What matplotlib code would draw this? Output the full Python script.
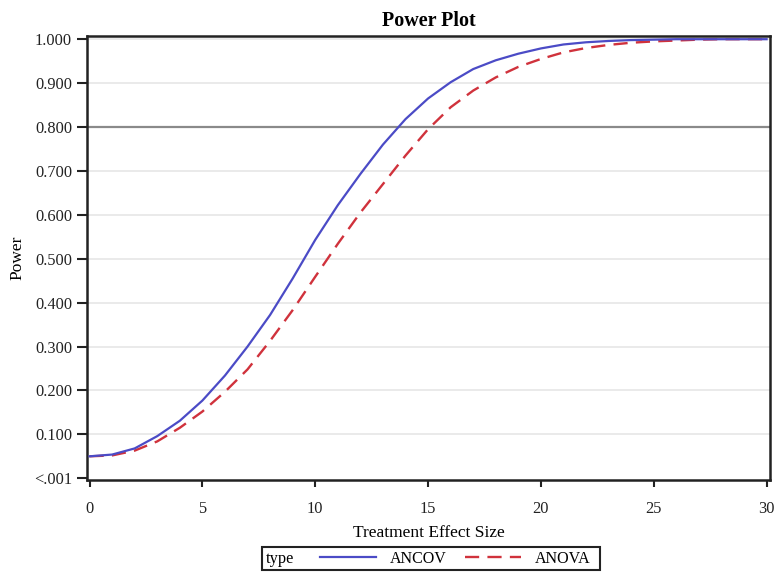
import matplotlib
matplotlib.use('Agg')
import matplotlib.pyplot as plt
from matplotlib.lines import Line2D
from matplotlib.patches import Rectangle

plt.rcParams['font.family'] = ['Liberation Serif', 'DejaVu Serif']

# Datos
effect = [0, 1, 2, 3, 4, 5, 6, 7, 8, 9, 10, 11, 12, 13, 14, 15,
          16, 17, 18, 19, 20, 21, 22, 23, 24, 25, 26, 27, 28, 29, 30]
ancov = [0.050, 0.054, 0.068, 0.096, 0.131, 0.177, 0.234, 0.300, 0.372, 0.455,
         0.543, 0.622, 0.693, 0.760, 0.818, 0.865, 0.902, 0.932, 0.952, 0.967,
         0.979, 0.988, 0.993, 0.996, 0.998, 0.999, 1.000, 1.000, 1.000, 1.000, 1.000]
anova = [0.050, 0.052, 0.063, 0.084, 0.115, 0.152, 0.197, 0.248, 0.313, 0.383,
         0.459, 0.534, 0.605, 0.670, 0.735, 0.795, 0.845, 0.883, 0.913, 0.937,
         0.955, 0.970, 0.980, 0.987, 0.992, 0.995, 0.997, 0.999, 1.000, 1.000, 1.000]
yticks = [0, 0.1, 0.2, 0.3, 0.4, 0.5, 0.6, 0.7, 0.8, 0.9, 1.0]
ytick_labels = ['<.001', '0.100', '0.200', '0.300', '0.400', '0.500',
                '0.600', '0.700', '0.800', '0.900', '1.000']
xticks = [0, 5, 10, 15, 20, 25, 30]

blue = '#4b4bc6'
red = '#d0323c'

fig = plt.figure(figsize=(7.74, 5.72), dpi=100)
ax = fig.add_axes([0.1128, 0.1608, 0.882, 0.7768])

# Rejilla y línea de referencia
for y in yticks[1:]:
    ax.axhline(y, color='#e6e6e6', linewidth=1.2, zorder=0)
ax.axhline(0.8, color='#8a8a8a', linewidth=1.6, zorder=1)

ax.plot(effect, ancov, color=blue, linewidth=1.6, zorder=3)
ax.plot(effect, anova, color=red, linewidth=1.7, dashes=(6, 3.5), zorder=2)

ax.set_xlim(-0.1, 30.15)
ax.set_ylim(-0.004, 1.008)
ax.set_xticks(xticks)
ax.set_yticks(yticks)
ax.set_yticklabels(ytick_labels)
ax.tick_params(axis='y', length=7, width=1.5, pad=4, labelsize=11.8, colors='#222222')
ax.tick_params(axis='x', length=5, width=1.5, pad=10, labelsize=11.8, colors='#222222')
for s in ax.spines.values():
    s.set_linewidth(1.8)
    s.set_color('#222222')

ax.set_title('Power Plot', fontsize=14.5, fontweight='bold', pad=7)
ax.set_xlabel('Treatment Effect Size', fontsize=12.5, labelpad=6)
ax.set_ylabel('Power', fontsize=12.5, labelpad=6)

# Leyenda al estilo SAS: recuadro con "type" a la izquierda
fig.add_artist(Rectangle((262 / 774, 0.003), 338 / 774, 0.040,
                         transform=fig.transFigure, fill=False,
                         edgecolor='#222222', linewidth=1.5))
fig.text(266 / 774, 0.023, 'type', fontsize=11.8, va='center', ha='left')
handles = [Line2D([], [], color=blue, linewidth=1.6),
           Line2D([], [], color=red, linewidth=1.7, dashes=(6, 3.5))]
fig.legend(handles, ['ANCOV', 'ANOVA'], ncol=2, loc='center left',
           bbox_to_anchor=(320 / 774, 0.023), frameon=False, fontsize=11.5,
           handlelength=3.5, handletextpad=0.9, columnspacing=1.1,
           borderpad=0, borderaxespad=0)

plt.savefig('out.png', dpi=100)
